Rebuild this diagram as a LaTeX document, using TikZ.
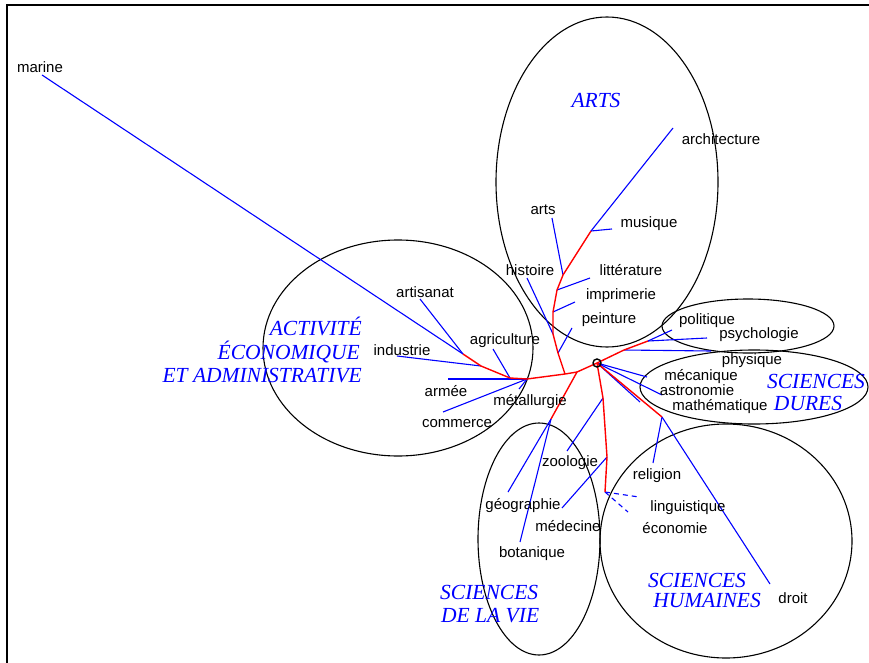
\documentclass[tikz,border=0pt]{standalone}
\usepackage{fontspec}
\setmainfont{Liberation Sans}
\newfontfamily\catfont{Liberation Serif}
\definecolor{pureblue}{RGB}{0,0,255}
\definecolor{purered}{RGB}{255,0,0}
\begin{document}
\begin{tikzpicture}[x=1pt,y=-1pt,
  leaf/.style={font=\fontsize{15}{17}\selectfont, inner sep=0pt, text=black},
  cat/.style={font=\catfont\itshape\fontsize{21.5}{24}\selectfont, text=pureblue, inner sep=0pt},
  tree/.style={draw=purered, line width=1.4pt, line join=round},
  br/.style={draw=pureblue, line width=1.1pt},
  dbr/.style={br, dash pattern=on 5pt off 4pt},
  grp/.style={draw=black, line width=1.1pt}]
\useasboundingbox (0,0) rectangle (869,663);
\draw[line width=2pt] (7,663) -- (7,5) -- (869,5);

% group ellipses
\draw[grp] (607,182) ellipse [x radius=111pt, y radius=165pt];
\draw[grp] (398,348) ellipse [x radius=135pt, y radius=108pt];
\draw[grp] (539,539) ellipse [x radius=61pt, y radius=116pt];
\draw[grp] (726,541) ellipse [x radius=126pt, y radius=117pt];
\draw[grp] (748,326) ellipse [x radius=86pt, y radius=27pt];
\draw[grp] (754,387) ellipse [x radius=114pt, y radius=37pt];

% junctions
\coordinate (R) at (597,363);
\coordinate (a1) at (577,372);
\coordinate (a2) at (565,374);
\coordinate (a3) at (527,379);
\coordinate (a4) at (510,378);
\coordinate (a5) at (481,366);
\coordinate (a6) at (463,354);
\coordinate (b1) at (551,419);
\coordinate (c1) at (558,353);
\coordinate (c2) at (553,334);
\coordinate (c3) at (553,312);
\coordinate (c4) at (557,290);
\coordinate (c5) at (563,275);
\coordinate (c6) at (591,231);
\coordinate (d1) at (624,350);
\coordinate (d2) at (648,341);
\coordinate (f1) at (662,417);
\coordinate (g0) at (603,398);
\coordinate (g1) at (607,457);
\coordinate (g2) at (605,492);

% free ends of leaf connectors
\coordinate (emarine) at (42,75);
\coordinate (eartisanat) at (420,299);
\coordinate (eindustrie) at (397,356);
\coordinate (eagriculture) at (493,349);
\coordinate (earmee) at (448,379);
\coordinate (ecommerce) at (443,412);
\coordinate (emetal) at (519,389);
\coordinate (egeo) at (508,492);
\coordinate (ebota) at (520,542);
\coordinate (epeinture) at (572,328);
\coordinate (ehistoire) at (527,278);
\coordinate (eimprimerie) at (575,302);
\coordinate (elitt) at (590,278);
\coordinate (earts) at (552,218);
\coordinate (emusique) at (612,229);
\coordinate (earchi) at (673,128);
\coordinate (epolitique) at (672,330);
\coordinate (epsycho) at (707,338);
\coordinate (ephysique) at (711,351);
\coordinate (emeca) at (647,377);
\coordinate (eastro) at (662,395);
\coordinate (emath) at (640,402);
\coordinate (ereligion) at (653,463);
\coordinate (edroit) at (770,584);
\coordinate (ezoo) at (567,451);
\coordinate (emed) at (562,508);
\coordinate (eling) at (639,497);
\coordinate (eeco) at (628,512);

% leaf connectors
\draw[br] (a6) -- (emarine);
\draw[br] (a6) -- (eartisanat);
\draw[br] (a5) -- (eindustrie);
\draw[br] (a4) -- (eagriculture);
\draw[br] (a3) -- (earmee);
\draw[br] (a3) -- (ecommerce);
\draw[br] (a3) -- (emetal);
\draw[br] (b1) -- (egeo);
\draw[br] (b1) -- (ebota);
\draw[br] (c1) -- (epeinture);
\draw[br] (c2) -- (ehistoire);
\draw[br] (c3) -- (eimprimerie);
\draw[br] (c4) -- (elitt);
\draw[br] (c5) -- (earts);
\draw[br] (c6) -- (emusique);
\draw[br] (c6) -- (earchi);
\draw[br] (d2) -- (epolitique);
\draw[br] (d2) -- (epsycho);
\draw[br] (d1) -- (ephysique);
\draw[br] (R) -- (emeca);
\draw[br] (R) -- (eastro);
\draw[br] (R) -- (emath);
\draw[br] (f1) -- (ereligion);
\draw[br] (f1) -- (edroit);
\draw[br] (g0) -- (ezoo);
\draw[br] (g1) -- (emed);
\draw[dbr] (g2) -- (eling);
\draw[dbr] (g2) -- (eeco);

% tree (internal edges)
\draw[tree] (R) -- (a1) -- (a2) -- (a3) -- (a4) -- (a5) -- (a6);
\draw[tree] (a1) -- (b1);
\draw[tree] (a2) -- (c1) -- (c2) -- (c3) -- (c4) -- (c5) -- (c6);
\draw[tree] (R) -- (d1) -- (d2);
\draw[tree] (R) -- (f1);
\draw[tree] (R) -- (g0) -- (g1) -- (g2);
\draw[line width=1.4pt] (R) circle [radius=4pt];

% leaf labels
\node[leaf] (marine) at (40,67) {marine};
\node[leaf] (architecture) at (721,139) {architecture};
\node[leaf] (arts) at (543,210) {arts};
\node[leaf] (musique) at (649,224) {musique};
\node[leaf] (histoire) at (530,270) {histoire};
\node[leaf] (litterature) at (631,270) {littérature};
\node[leaf] (imprimerie) at (621,296) {imprimerie};
\node[leaf] (peinture) at (609,320) {peinture};
\node[leaf] (politique) at (707,321) {politique};
\node[leaf] (psychologie) at (759,335) {psychologie};
\node[leaf] (physique) at (752,361) {physique};
\node[leaf] (mecanique) at (701,377) {mécanique};
\node[leaf] (astronomie) at (697,390) {astronomie};
\node[leaf] (mathematique) at (720,407) {mathématique};
\node[leaf] (artisanat) at (425,292) {artisanat};
\node[leaf] (industrie) at (402,350) {industrie};
\node[leaf] (agriculture) at (505,341) {agriculture};
\node[leaf] (armee) at (446,391) {armée};
\node[leaf] (metallurgie) at (530,402) {métallurgie};
\node[leaf] (commerce) at (457,424) {commerce};
\node[leaf] (zoologie) at (570,463) {zoologie};
\node[leaf] (geographie) at (523,506) {géographie};
\node[leaf] (medecine) at (568,526) {médecine};
\node[leaf] (botanique) at (532,554) {botanique};
\node[leaf] (religion) at (657,476) {religion};
\node[leaf] (linguistique) at (688,508) {linguistique};
\node[leaf] (economie) at (675,528) {économie};
\node[leaf] (droit) at (793,598) {droit};

% category labels
\node[cat] (carts) at (596,100) {ARTS};
\node[cat, anchor=east] (cact1) at (362,326) {ACTIVITÉ};
\node[cat, anchor=east] (cact2) at (360,352) {ÉCONOMIQUE};
\node[cat, anchor=east] (cact3) at (362,376) {ET ADMINISTRATIVE};
\node[cat] (cdur1) at (816,381) {SCIENCES};
\node[cat] (cdur2) at (808,403) {DURES};
\node[cat, anchor=west] (cvie1) at (440,592) {SCIENCES};
\node[cat, anchor=west] (cvie2) at (441,616) {DE LA VIE};
\node[cat] (chum1) at (697,580) {SCIENCES};
\node[cat] (chum2) at (707,600) {HUMAINES};
\end{tikzpicture}
\end{document}
